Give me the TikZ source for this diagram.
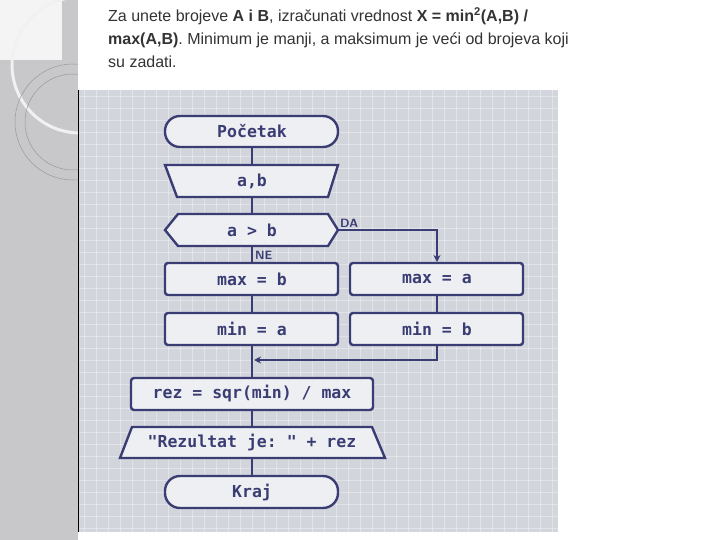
\documentclass[tikz,border=0pt]{standalone}
\usepackage{fontspec}
\setmainfont{Liberation Sans}
\setmonofont{DejaVu Sans Mono}
\usetikzlibrary{shapes.geometric,shapes.misc,arrows.meta}
\definecolor{navy}{HTML}{3A3D73}
\definecolor{boxfill}{HTML}{EEEFF3}
\definecolor{panel}{HTML}{D3D5DC}
\definecolor{side}{HTML}{C8C8CA}
\definecolor{txt}{HTML}{333333}
\tikzset{
  x=1pt,y=-1pt,
  shp/.style={draw=navy,fill=boxfill,line width=2.4pt},
  lbl/.style={font=\ttfamily\bfseries\fontsize{16.5}{18}\selectfont,text=navy},
  flow/.style={draw=navy,line width=2.2pt},
  tline/.style={anchor=base west,font=\fontsize{16}{19}\selectfont,text=txt,inner sep=0pt},
  small/.style={font=\sffamily\bfseries\fontsize{12}{14}\selectfont,text=navy,inner sep=1pt},
}
\begin{document}
\begin{tikzpicture}
\useasboundingbox (0,0) rectangle (720,540);
\fill[white] (0,0) rectangle (720,540);
% side decoration
\begin{scope}
\clip (0,0) rectangle (78,540);
\fill[side] (0,0) rectangle (78,540);
\fill[white!80!side] (0,0) rectangle (62,60);
\draw[white!75!side,line width=3pt] (80,65) circle[radius=68];
\draw[gray!80,line width=0.5pt] (73,122) circle[radius=58];
\draw[gray!80,line width=0.5pt] (73,122) circle[radius=48];
\end{scope}
% panel
\fill[panel] (79,90) rectangle (558,532);
\foreach \gx in {84,96,...,556} \draw[white,opacity=0.35,line width=0.6pt] (\gx,90) -- (\gx,532);
\foreach \gy in {96,108,...,530} \draw[white,opacity=0.35,line width=0.6pt] (79,\gy) -- (558,\gy);
\draw[black,line width=1pt] (78,90) -- (78,532);
% title
\node[tline] (t1) at (108,22) {Za unete brojeve \textbf{A i B}, izračunati vrednost \textbf{X = min\textsuperscript{2}(A,B) /}};
\node[tline] (t2) at (108,45) {\textbf{max(A,B)}. Minimum je manji, a maksimum je veći od brojeva koji};
\node[tline] (t3) at (108,68) {su zadati.};
% shapes
\draw[shp,rounded corners=15pt] (165,116) rectangle (338,147);
\node[lbl] (start) at (252,131.5) {Početak};
\draw[shp] (165,165) -- (338,165) -- (328,197) -- (177,197) -- cycle;
\node[lbl] (in) at (252,181) {a,b};
\draw[shp] (165,230) -- (178,214) -- (328,214) -- (338,230) -- (328,246) -- (178,246) -- cycle;
\node[lbl] (cond) at (252,230) {a > b};
\coordinate (condR) at (338,230);
\draw[shp,rounded corners=3pt] (165,263) rectangle (338,295);
\node[lbl] (maxb) at (252,279) {max = b};
\draw[shp,rounded corners=3pt] (350,263) rectangle (523,295);
\node[lbl] (maxa) at (437,279) {max = a};
\draw[shp,rounded corners=3pt] (165,313) rectangle (338,345);
\node[lbl] (mina) at (252,329) {min = a};
\draw[shp,rounded corners=3pt] (350,313) rectangle (523,345);
\node[lbl] (minb) at (437,329) {min = b};
\draw[shp,rounded corners=3pt] (131,378) rectangle (373,410);
\node[lbl] (rez) at (252,394) {rez = sqr(min) / max};
\draw[shp] (132,427) -- (372,427) -- (385,458) -- (120,458) -- cycle;
\node[lbl] (out) at (252,442.5) {"Rezultat je: " + rez};
\draw[shp,rounded corners=15pt] (165,476) rectangle (338,508);
\node[lbl] (end) at (252,492) {Kraj};
% connectors
\draw[flow] (252,148) -- (252,164);
\draw[flow] (252,198) -- (252,213);
\draw[flow] (252,247) -- (252,262);
\draw[flow] (252,296) -- (252,312);
\draw[flow] (252,346) -- (252,377);
\draw[flow] (252,411) -- (252,426);
\draw[flow] (252,459) -- (252,475);
\draw[flow] (437,296) -- (437,312);
\draw[flow,-{Stealth[length=7pt,width=7pt]}] (condR) -- (437,230) -- (437,262);
\coordinate (merge) at (254,360);
\draw[flow,-{Stealth[length=7pt,width=7pt]}] (437,346) -- (437,360) -- (merge);
\node[small,anchor=south west] (da) at (339,229) {DA};
\node[small,anchor=west] (ne) at (254,255) {NE};
\end{tikzpicture}
\end{document}
